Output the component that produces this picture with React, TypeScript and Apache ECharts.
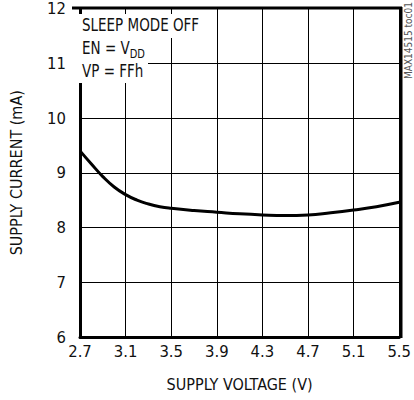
import React, { useEffect, useRef } from "react";
import * as echarts from "echarts";

const voltage = [2.7, 2.8, 2.9, 3.0, 3.1, 3.2, 3.3, 3.4, 3.5, 3.7, 3.9, 4.1, 4.3, 4.5, 4.7, 4.9, 5.1, 5.3, 5.5];
const current = [9.4, 9.16, 8.93, 8.74, 8.6, 8.5, 8.43, 8.38, 8.35, 8.31, 8.28, 8.25, 8.23, 8.22, 8.23, 8.27, 8.32, 8.38, 8.46];

const xTicks = [2.7, 3.1, 3.5, 3.9, 4.3, 4.7, 5.1, 5.5];
const yMin = 6;
const yMax = 12;

const FONT = "'Liberation Sans Narrow', 'DejaVu Sans Condensed', 'Roboto Condensed', sans-serif";

export default function App() {
  const ref = useRef<HTMLDivElement>(null);
  useEffect(() => {
    document.body.style.margin = "0";
    const chart = echarts.init(ref.current!, null, { renderer: "svg" });
    const data = voltage.map((v, i) => [v, current[i]]);
    const annoText = { fontFamily: FONT, fontSize: 15, fill: "#111" };
    chart.setOption({
      animation: false,
      backgroundColor: "#ffffff",
      grid: { left: 73, right: 13, top: 8, bottom: 63, containLabel: false },
      xAxis: {
        type: "value",
        min: xTicks[0],
        max: xTicks[xTicks.length - 1],
        interval: 0.4,
        name: "SUPPLY VOLTAGE (V)",
        nameLocation: "middle",
        nameGap: 39,
        nameTextStyle: { fontFamily: FONT, fontSize: 16, color: "#111" },
        axisLine: { show: true, lineStyle: { color: "#000", width: 3 } },
        axisTick: { show: false },
        axisLabel: {
          fontFamily: FONT,
          fontSize: 16.5,
          color: "#111",
          margin: 6,
          formatter: (v: number) => v.toFixed(1),
        },
        splitLine: { show: true, lineStyle: { color: "#000", width: 1 } },
      },
      yAxis: {
        type: "value",
        min: yMin,
        max: yMax,
        interval: 1,
        name: "SUPPLY CURRENT (mA)",
        nameLocation: "middle",
        nameGap: 56,
        nameTextStyle: { fontFamily: FONT, fontSize: 16, color: "#111" },
        axisLine: { show: true, lineStyle: { color: "#000", width: 3 } },
        axisTick: { show: false },
        axisLabel: { fontFamily: FONT, fontSize: 16.5, color: "#111", margin: 14 },
        splitLine: { show: true, lineStyle: { color: "#000", width: 1 } },
      },
      graphic: [
        {
          type: "line",
          shape: { x1: 401, y1: 7, x2: 401, y2: 338 },
          style: { stroke: "#000", lineWidth: 3 },
          z: 10,
        },
        {
          type: "line",
          shape: { x1: 72, y1: 8, x2: 402, y2: 8 },
          style: { stroke: "#000", lineWidth: 3 },
          z: 10,
        },
        { type: "rect", shape: { x: 77, y: 14, width: 124, height: 24 }, style: { fill: "#fff" }, z: 20 },
        { type: "rect", shape: { x: 77, y: 38, width: 69, height: 22 }, style: { fill: "#fff" }, z: 20 },
        { type: "rect", shape: { x: 77, y: 60, width: 71, height: 23 }, style: { fill: "#fff" }, z: 20 },
        {
          type: "text",
          x: 82,
          y: 16,
          scaleY: 1.18,
          z: 30,
          style: { text: "SLEEP MODE OFF", ...annoText },
        },
        {
          type: "text",
          x: 82,
          y: 39,
          scaleY: 1.18,
          z: 30,
          style: {
            text: "{a|EN = V}{b|DD}",
            ...annoText,
            rich: {
              a: { ...annoText, verticalAlign: "bottom" },
              b: { ...annoText, fontSize: 11, verticalAlign: "bottom", padding: [0, 0, -3, 0] },
            },
          },
        },
        {
          type: "text",
          x: 82,
          y: 62,
          scaleY: 1.18,
          z: 30,
          style: { text: "VP = FFh", ...annoText },
        },
        {
          type: "text",
          x: 403,
          y: 79,
          rotation: Math.PI / 2,
          z: 30,
          style: { text: "MAX14515 toc01", fontFamily: FONT, fontSize: 10, fill: "#555" },
        },
      ],
      series: [
        {
          type: "line",
          data,
          smooth: 0.5,
          showSymbol: false,
          lineStyle: { color: "#000", width: 3 },
          z: 5,
        },
      ],
    });
    return () => chart.dispose();
  }, []);
  return <div ref={ref} style={{ width: 414, height: 400 }} />;
}
